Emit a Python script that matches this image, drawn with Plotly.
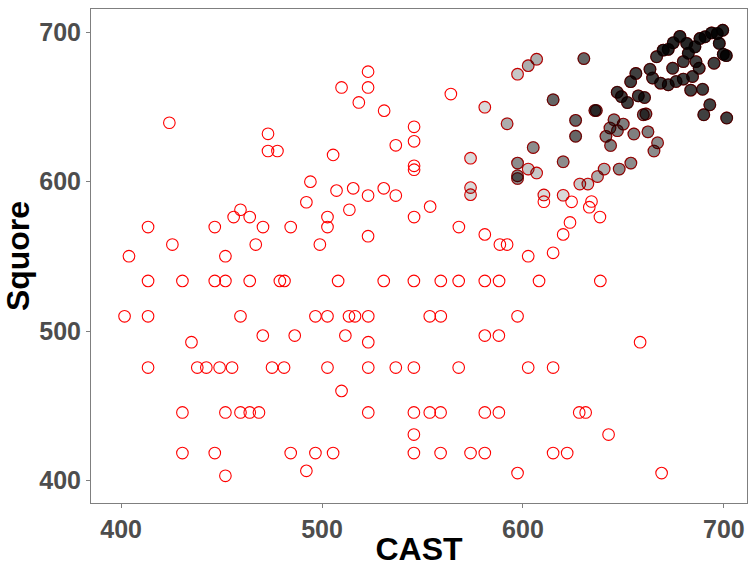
import plotly.graph_objects as go

# ---- data (CAST, Squore, fill opacity of the black overlay) ----
open_cast = [424, 473.1, 473.1, 477.8, 509.7, 522.9, 522.9, 518.3, 530.9, 564.1, 545.8, 545.8, 536.7,
             505.5, 545.8, 545.8, 494.2, 507.2, 515.5, 530.7, 522.9, 536.7, 492.2, 553.8, 459.4, 513.6,
             456, 464, 502.7, 545.8,
             413.4, 446.6, 470.6, 484.4, 502.7, 568.1,
             581, 522.9, 620, 623.4, 638.3, 624.2, 634.1, 633, 610.4,
             425.5, 467, 498.9, 588.5, 592.1,
             403.9, 451.9, 602.6, 615,
             413.4, 430.5, 446.6, 451.9, 464, 479, 481.3, 508, 530.7, 545.7, 559.1, 568, 581, 588.1, 608, 638.5,
             401.7, 413.4, 459.4, 496.7, 502.7, 513.4, 516.4, 523, 553.6, 559.1, 597.3,
             470.5, 486.4, 511.6, 581, 588,
             435, 523, 658.3,
             413.4, 437.9, 442.4, 449, 455.2, 475.1, 481.1, 502.7, 523, 536.7, 545.7, 568, 602.6, 615,
             509.7,
             430.5, 451.9, 459.4, 464, 468.6, 523, 545.7, 553.6, 559, 581, 588, 628, 631.2,
             545.7, 642.6,
             430.5, 446.6, 484.4, 496.7, 505.5, 545.7, 559, 573.9, 581, 615, 622,
             492.2, 451.9, 597.3, 669]
open_squore = [639.4, 632, 620.5, 620.5, 663, 673.6, 663, 653, 647.5, 658.6, 636.7, 627, 624.3,
               617.9, 610.6, 608, 600, 594, 595.5, 595.5, 590.7, 590.7, 586.2, 583.3, 581.2, 581.2,
               576.3, 576.3, 576.3, 576.3,
               569.6, 569.6, 569.6, 569.6, 569.6, 569.6,
               564.7, 563.5, 564.7, 572.7, 576.3, 586.5, 586.7, 582.9, 586.6,
               557.9, 557.9, 557.9, 557.9, 557.9,
               550.1, 550.1, 550.1, 552.4,
               533.6, 533.6, 533.6, 533.6, 533.6, 533.6, 533.6, 533.6, 533.6, 533.6, 533.6, 533.6, 533.6, 533.6, 533.6, 533.6,
               509.9, 509.9, 509.9, 509.9, 509.9, 509.9, 509.9, 509.9, 509.9, 509.9, 509.9,
               497, 497, 497, 497, 497,
               492.6, 492.6, 492.6,
               475.6, 475.6, 475.6, 475.6, 475.6, 475.6, 475.6, 475.6, 475.6, 475.6, 475.6, 475.6, 475.6, 475.6,
               460,
               445.6, 445.6, 445.6, 445.6, 445.6, 445.6, 445.6, 445.6, 445.6, 445.6, 445.6, 445.6, 445.6,
               430.8, 430.8,
               418.4, 418.4, 418.4, 418.4, 418.4, 418.4, 418.4, 418.4, 418.4, 418.4, 418.4,
               406.5, 403.2, 405, 405]

fill_cast = [581, 573.9, 573.9, 573.9, 610.4, 620,
             597.3, 628.3, 632.3, 602.6, 606.8,
             602.6, 606.8, 592.1, 637.1, 640.4,
             605.1, 597.3, 597.3, 597.3, 620, 647.9, 653.7, 665.2, 667,
             643.6, 643.3, 641.3, 647, 655.2, 662.2, 645.3, 649.9,
             615, 626.2, 626.2, 630.3, 659.9, 661.2, 635.8, 636.5,
             646.9, 649, 652, 657.4, 660.5, 653.6, 656.2, 663.2, 664.5, 666.5, 668.5, 672.3, 676.2,
             679.8, 684.4, 683.5, 689.4, 693, 690, 701.4, 674.5, 679.8, 686.1, 687.7, 695.1,
             669.8, 672.3, 674.8, 678.1, 681.5, 682.3, 685.6, 688.1, 690.6, 693.9, 696.7, 699.4,
             697.7, 699.7, 701.2]
fill_squore = [649.8, 615.7, 596, 591.3, 591.1, 590.9,
               671.9, 598.4, 598.4, 608.4, 605.8,
               677.6, 681.9, 638.7, 603.4, 608.4,
               622.8, 612.4, 603.9, 602.1, 613.3, 608.4, 612.4, 620.5, 626,
               624.2, 635.9, 630.3, 634.1, 631.9, 633.3, 641.4, 638.5,
               654.8, 641, 630.4, 682.3, 644.8, 645.3, 647.6, 647.6,
               659.8, 656.9, 652.9, 657.4, 656.3, 666.9, 672.4, 675.2, 669.3, 683.6, 665.9, 664.8, 667,
               668.6, 670.3, 661.2, 661.8, 651.4, 644.8, 642.6, 675.9, 680.3, 680.3, 675.9, 679.2,
               688, 688.5, 692.9, 697.2, 692.5, 685.9, 690.2, 695.8, 696.9, 699.5, 699.1, 701.3,
               692.5, 685.2, 684.3]
fill_alpha = [0.15, 0.15, 0.15, 0.15, 0.15, 0.15,
              0.22, 0.22, 0.22, 0.22, 0.22,
              0.32, 0.32, 0.32, 0.32, 0.32,
              0.45, 0.45, 0.45, 0.45, 0.45, 0.45, 0.45, 0.45, 0.45,
              0.5, 0.5, 0.5, 0.5, 0.5, 0.5, 0.5, 0.5,
              0.6, 0.6, 0.6, 0.6, 0.6, 0.6, 0.6, 0.6,
              0.75, 0.75, 0.75, 0.75, 0.75, 0.75, 0.75, 0.75, 0.75, 0.75, 0.75, 0.75, 0.75,
              0.75, 0.75, 0.75, 0.75, 0.75, 0.75, 0.75, 0.75, 0.75, 0.75, 0.75, 0.75,
              0.85, 0.85, 0.85, 0.85, 0.85, 0.85, 0.85, 0.85, 0.85, 0.85, 0.85, 0.85,
              0.85, 0.85, 0.85]

x_ticks = [400, 500, 600, 700]
y_ticks = [400, 500, 600, 700]

FONT = "Liberation Sans, Arial, sans-serif"

fig = go.Figure()

# red outline for every point
all_cast = open_cast + fill_cast
all_squore = open_squore + fill_squore
fig.add_trace(go.Scatter(
    x=all_cast, y=all_squore, mode="markers", hoverinfo="skip",
    marker=dict(symbol="circle-open", size=11.6, color="#ff0000", line=dict(width=1.1, color="#ff0000")),
    showlegend=False))

# black fill with varying opacity on top
fig.add_trace(go.Scatter(
    x=fill_cast, y=fill_squore, mode="markers", hoverinfo="skip",
    marker=dict(symbol="circle", size=12.9,
                color=[f"rgba(0,0,0,{a})" for a in fill_alpha],
                line=dict(width=0)),
    showlegend=False))

axis_common = dict(
    showgrid=False, zeroline=False, showline=True, linecolor="#7f7f7f", linewidth=1,
    mirror=True, ticks="outside", ticklen=4, tickwidth=1, tickcolor="#7f7f7f",
    tickfont=dict(family=FONT, size=25, color="#4d4d4d", weight="bold"),
)

fig.update_layout(
    width=750, height=567,
    margin=dict(l=91, r=2, t=9, b=61),
    paper_bgcolor="white", plot_bgcolor="white",
    xaxis=dict(range=[385, 711.5], tickvals=x_ticks, ticktext=[str(v) for v in x_ticks],
               title=dict(text="CAST", font=dict(family=FONT, size=32, color="black", weight="bold"),
                          standoff=0),
               **axis_common),
    yaxis=dict(range=[385, 715.5], tickvals=y_ticks, ticktext=[str(v) for v in y_ticks],
               title=dict(text="Squore", font=dict(family=FONT, size=32, color="black", weight="bold"),
                          standoff=4),
               **axis_common),
)

fig.write_html("out.html")
